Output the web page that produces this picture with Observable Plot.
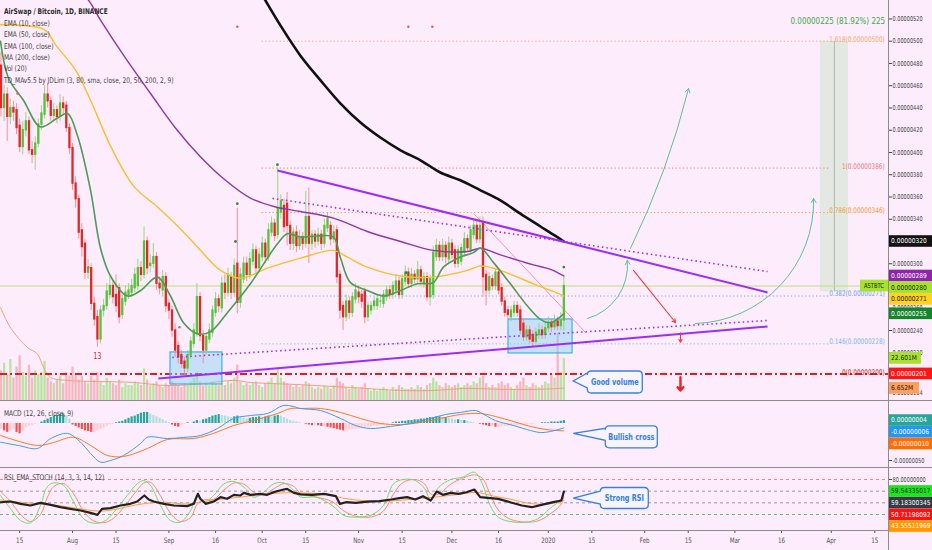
<!DOCTYPE html>
<html><head><meta charset="utf-8">
<script src="https://cdn.jsdelivr.net/npm/d3@7"></script>
<script src="https://cdn.jsdelivr.net/npm/@observablehq/plot@0.6"></script>
<style>
html,body{margin:0;padding:0;background:#fcecfc;}
#wrap{position:relative;width:932px;height:550px;overflow:hidden;background:#fcecfc;}
#wrap > svg{position:absolute;left:0;}
</style></head><body><div id="wrap"></div><script>
const FONT = '"Liberation Sans Narrow","DejaVu Sans Condensed","Liberation Sans",sans-serif';
const START = Date.UTC(2019, 6, 9);
const toDate = d => new Date(START + d * 864e5);

// ---------- daily candles (sats, 1e-8 BTC), day 0 = 2019-07-09 ----------
const opens = [478,440,452,432,440,438,424,405,420,428, 402,398,408,425,434,452,446,433,438,432,
 444,442,422,404,372,358,330,318,292,296, 264,252,232,258,262,272,280,272,278,254,
 266,272,274,278,280,296,290,320,298,300, 306,282,276,288,264,258,240,226,218,212,
 206,218,228,238,270,235,222,232,238,256, 268,260,282,274,288,274,300,265,286,300,
 290,302,312,296,306,318,306,328,336,326, 346,352,354,334,318,328,316,324,318,342,
 318,326,320,326,318,332,334,322,330,290, 262,252,266,256,268,274,272,275,252,258,
 262,262,266,264,270,276,272,276,284,272, 284,292,282,290,286,294,282,288,270,272,
 306,316,306,316,304,318,312,300,302,310, 322,312,326,334,322,336,290,276,286,280,
 292,278,266,258,252,256,262,258,246,234, 240,236,230,236,240,236,242,247,243,248, 244,249];
const closes = [440,452,432,440,436,422,405,420,428,402, 398,408,425,435,452,446,433,438,432,444,
 440,422,404,372,358,328,315,292,296,264, 250,232,258,262,275,280,270,262,252,268,
 274,276,280,290,296,290,320,296,300,306, 282,278,288,262,258,240,222,216,210,206,
 218,230,240,270,235,222,234,240,258,268, 262,282,274,290,274,298,265,290,300,290,
 304,312,296,308,318,306,330,336,325,350, 356,333,334,318,328,316,324,318,342,318,
 326,320,326,318,334,340,322,328,288,258, 252,266,256,270,276,270,266,252,262,262,
 266,268,266,272,276,272,280,284,272,286, 292,282,290,286,294,284,288,270,286,310,
 316,306,316,306,318,308,300,312,314,322, 314,330,334,322,334,288,276,288,280,292,
 276,266,256,254,258,262,256,240,234,240, 232,230,238,240,236,242,247,243,248,244, 249,280];
const highs = [490,460,458,448,446,444,430,428,436,432, 410,414,430,442,460,462,450,444,442,452,
 450,446,426,408,378,362,336,322,304,300, 270,258,262,268,282,288,284,290,282,272,
 280,282,286,296,304,302,333,324,308,318, 310,288,294,292,268,262,246,230,222,216,
 222,234,246,282,274,240,238,246,262,274, 272,288,290,296,292,304,350,296,306,306,
 310,318,316,314,324,322,336,342,340,386, 362,358,364,338,332,334,330,328,365,368,
 330,330,332,330,340,346,338,334,334,294, 266,272,270,274,282,280,276,278,266,266,
 270,272,272,276,280,280,284,290,288,290, 298,296,296,294,302,298,292,292,290,316,
 322,320,322,320,324,322,316,316,318,328, 326,334,339,338,342,342,294,292,290,296,
 296,282,270,262,262,266,266,262,250,244, 244,240,242,246,244,248,252,250,254,252, 256,290];
const lows = [432,428,410,425,428,416,400,398,414,398, 390,384,404,420,430,440,428,428,426,428,
 434,418,398,366,350,322,306,286,286,258, 244,225,228,252,258,268,264,256,246,250,
 262,268,270,274,276,284,286,290,292,296, 276,272,270,256,250,234,216,210,206,200,
 202,214,224,234,230,210,218,228,234,252, 256,256,268,270,268,270,255,260,282,284,
 286,298,290,292,302,300,302,324,320,322, 340,328,316,312,312,310,312,312,314,300,
 312,314,316,312,314,328,316,318,282,250, 240,248,250,252,264,264,260,246,248,254,
 258,258,260,260,266,268,268,272,268,268, 280,278,278,282,282,280,278,266,262,268,
 302,302,302,300,300,304,296,296,298,306, 310,308,322,318,318,270,262,272,276,276,
 272,262,252,250,248,252,252,236,230,230, 228,225,228,232,232,232,238,238,240,240, 240,240];
// volume, millions
const volumes = [16,20,14,22,12,18,24,15,13,19, 12,16,14,15,21,12,10,9,11,13,
 9,15,13,18,14,11,13,10,9,13, 11,15,10,8,12,10,9,8,11,7,
 9,8,8,10,9,8,17,11,8,9, 10,8,7,9,8,10,9,8,7,9,
 8,10,12,15,10,8,9,8,10,9, 8,9,8,10,9,12,19,10,8,9,
 8,9,10,8,7,9,10,12,9,17, 12,10,9,8,7,8,7,8,10,9,
 7,6,7,6,8,7,6,8,12,10, 9,7,6,8,7,6,7,9,6,5,
 6,5,6,7,6,5,7,6,8,7, 6,6,7,6,8,7,6,8,9,12,
 10,8,7,9,8,7,8,9,7,8, 9,8,10,9,12,13,9,7,8,7,
 9,10,8,9,7,6,8,10,12,8, 7,9,8,7,8,10,9,14,12,36, 15,22.601];
// MACD histogram (sats)
const macdHist = [-8,-10,-12,-10,-8,-12,-14,-10,-6,-4, -3,-1,0,2,4,6,8,10,11,12,
 13,10,6,-2,-4,-6,-8,-10,-11,-12, -12,-10,-8,-6,-4,-2,-1,1,2,3,
 5,7,9,10,12,14,15,15,13,11, 9,7,5,3,1,-2,-4,-5,-3,-1,
 1,0,2,4,3,5,6,8,10,11, 12,11,10,9,8,9,10,9,7,6,
 7,8,8,9,8,9,10,9,10,11, 10,8,6,4,3,2,1,0,-1,-2,
 -3,-2,-3,-4,-4,-5,-6,-7,-8,-9, -10,-10,-9,-8,-8,-7,-7,-6,-5,-5,
 -4,-4,-3,-2,-1,0,1,2,2,3, 3,4,4,5,5,6,6,7,8,8,
 9,9,8,8,7,6,5,5,4,4, 3,2,1,0,-1,-2,-3,-4,-4,-5,
 -5,-4,-4,-4,-3,-3,-3,-2,-2,-2, -1,-1,0,0,1,1,1,2,2,2, 3,4];

// ---------- indicator lines, read as [day, value] ----------
const ema10 = [[-0.16,500],[2.4,467],[7.2,447],[12.7,423],[18.2,431],[21.4,435],[24.6,415],[28.8,366],[32,314],[35.2,289],[40.7,271],[44.9,276],[50.3,288],[54.5,271],[58.7,247],[63.2,237],[67.4,239],[72.8,256],[80.2,282],[88.9,318],[92.1,327],[96.3,324],[101.8,325],[106.9,324],[109.2,305],[112.4,283],[117.8,276],[123,271],[128.5,276],[133.9,282],[139,283],[142.3,297],[147.7,306],[151.9,310],[154.2,314],[158.4,301],[163.8,282],[169.3,262],[173.5,250],[176.7,247],[181,255]];
const ema50 = [[-0.16,515],[12.7,512],[15,508],[17.5,497],[24,474],[28.8,447],[35.2,406],[42.6,370],[50.3,351],[56.8,334],[64.2,312],[70.6,294],[77,287],[85.7,296],[96.3,305],[106.9,312],[111.4,306],[117.8,297],[128.5,289],[139,288],[150,294],[154.2,298],[160.6,294],[171.2,282],[176.7,276],[181,271]];
const ema100 = [[20,560],[28.1,537],[32,519],[40,485],[48.1,453],[56.1,422],[64.2,396],[72.2,375],[80.2,359],[88.3,351],[96.3,347],[106.9,341],[117.8,329],[128.5,320],[139,312],[150,311],[154.2,314],[160.6,308],[171.2,299],[176.7,295],[181,289]];
const ma200 = [[80,560],[84.1,541],[89.9,514],[96.3,487],[102.7,465],[109.2,444],[115.6,427],[122,413.5],[128.5,402],[134.9,393],[141.3,382],[147.7,375],[154.2,366],[160.6,357],[167,345],[173.5,333.5],[178.3,325],[181,320]];
const volMa20 = [[-0.16,50],[3.1,39],[8.5,28.5],[11.7,25],[13.7,17.7],[15.9,12.4],[21.4,10.8],[42.6,9.7],[53.5,8],[64.2,9],[74.8,10.8],[80.2,9.7],[96.3,8.5],[112.4,7],[128.5,5.4],[139,5.4],[150,6.5],[160.6,6],[171,5.9],[181,6.652]];
const macdLine = [[-0.16,-25.3],[5.6,-29.7],[11.7,-33.8],[16,-20.3],[21.4,-13.5],[25.6,-25.3],[28.8,-40.5],[32,-52.3],[35.2,-50],[39.4,-43.2],[44.9,-27],[47.1,-18.5],[53.5,-20.3],[58.7,-18.9],[64.2,-16.2],[69.6,-6.8],[74.8,6.8],[80.2,10.8],[85.7,13.5],[90.8,24.3],[94,23],[96.3,20.3],[102.7,17.6],[109.2,6.8],[114,-2.7],[118.8,-6.8],[125.2,-4],[131.7,0],[138.1,6.8],[143,12.2],[147.7,14.9],[152.6,17.6],[154.2,14.9],[159,4],[164.8,-2.7],[170.3,-9.5],[173.5,-12.2],[176.7,-10.8],[181,-6]];
const signalLine = [[-0.16,-16.2],[11.7,-29.7],[16.9,-25.7],[23.3,-18.5],[28.8,-29.7],[34.2,-43.2],[39.4,-44.6],[47.1,-33.8],[53.5,-21.6],[61.9,-20.3],[68.3,-13.5],[74.8,-2.7],[81.2,4],[88.9,13.5],[93.1,20.3],[96.3,20.3],[102.7,20.3],[109.2,14.9],[115.6,6.8],[122,0],[128.5,-1.4],[134.9,1.4],[141.3,6.8],[147.7,12.2],[154.2,13.5],[159,9.5],[164.8,2.7],[170.3,-4],[175.2,-8.1],[181,-10]];
const rsiLine = [[-0.16,41],[3.1,42.3],[6.3,38.3],[9.5,35.4],[12.7,40],[16,36.6],[19.1,32.6],[22.3,29.7],[25.6,26.9],[28.8,22.9],[31,19.4],[32.5,29.7],[35.2,30.9],[38.4,35.4],[41.6,38.3],[43.8,42.3],[46.1,52.6],[47.5,45.7],[49.1,42.3],[52.4,38.3],[55.6,35.4],[59.9,34.3],[62,38.3],[63.3,55.4],[64.1,46.9],[65.8,38.3],[68.4,42.3],[70.6,49.7],[72.7,46.9],[74.9,53.7],[77,52.6],[78.1,57.1],[80.2,53.7],[83.4,55.4],[85.6,53.7],[87.7,58.3],[90.9,62.9],[92,64],[94.2,57.1],[96.3,54.5],[100.1,53.7],[103.9,55.4],[107.7,51.4],[109,38.2],[110.9,41.1],[114.1,40],[117.9,42.2],[121.7,42.8],[125.5,45.7],[128.1,48],[130.6,49.7],[133.2,45.7],[135.7,51.4],[138.2,44],[140.1,59.4],[142.1,53.7],[144.6,57.1],[147.1,55.4],[149.7,58.2],[152.2,62.8],[154.1,49.7],[157.3,48],[159.9,46.8],[163.7,41.1],[167.5,35.4],[170.7,32.5],[173.8,36.5],[177.6,41.1],[180.2,44],[181,59.18]];
const rsiEma = [[-0.16,45],[8,40],[16,37],[24,31],[31,26],[36,28],[44,37],[52,41],[60,38],[66,43],[74,48],[82,53],[90,57],[96,57],[104,55],[110,48],[116,44],[124,43],[132,46],[140,50],[148,55],[153,58],[158,52],[164,46],[170,39],[176,38],[181,43.55]];
const stochK = [[-0.16,52.6],[3.1,29.7],[6.3,9.7],[9.5,5.7],[12.7,35.4],[14.8,66.9],[17,74.3],[20.2,69.7],[23.4,41.1],[26.6,12.6],[29.8,5.1],[33.1,8],[36.3,24],[40.6,52.6],[43.8,72.6],[45.9,78.3],[48.1,69.7],[51.3,35.4],[54.5,9.7],[57.7,6.9],[61,26.9],[63.1,52.6],[65.2,41.1],[68.4,52.6],[71.7,72.6],[74.9,76.6],[78.1,66.9],[81.3,49.7],[84.5,58.3],[87.7,72.6],[91,74.3],[94.2,61.1],[96.3,50],[101.4,49.7],[106.5,35.4],[110.3,18.3],[114.1,15.4],[119.2,19.4],[123,35.4],[126.2,72.5],[129.3,80],[133.2,78.3],[136.3,64],[138.2,44],[140.8,66.8],[144.6,80],[148.4,84],[152.2,92.5],[154.8,72.5],[157.3,35.4],[159.9,15.4],[163.7,8],[168.7,6.8],[172.6,12.5],[176.4,29.7],[180.2,46.8],[181,59.54]];
const stochD = [[-0.16,60],[3.1,42],[6.3,20],[9.5,8],[12.7,20],[14.8,48],[17,68],[20.2,73],[23.4,55],[26.6,25],[29.8,9],[33.1,6],[36.3,14],[40.6,40],[43.8,62],[45.9,74],[48.1,75],[51.3,52],[54.5,22],[57.7,8],[61,15],[63.1,38],[65.2,45],[68.4,46],[71.7,62],[74.9,74],[78.1,72],[81.3,58],[84.5,54],[87.7,64],[91,73],[94.2,68],[96.3,56],[101.4,50],[106.5,42],[110.3,26],[114.1,17],[119.2,16],[123,26],[126.2,55],[129.3,75],[133.2,80],[136.3,72],[138.2,55],[140.8,55],[144.6,72],[148.4,82],[152.2,88],[154.8,82],[157.3,55],[159.9,28],[163.7,12],[168.7,7],[172.6,9],[176.4,20],[180.2,38],[181,50.71]];

// ---------- drawings ----------
const fibRatios = ["0","0.146","0.382","0.786","1","1.618"];
const fibValues = [200,228,271,346,386,500];
const fibColors = ["#b71c1c","#7fb8ec","#6fa6e8","#f09a3e","#ee7b7b","#f3a86c"];
const alertLevel = 201;
const trendSolid = [[88.9,383.8,246.5,274.2],[50.6,196.9,246.5,243.6]];
const trendDotted = [[87.3,358.7,246.5,293],[55.1,215.8,246.5,249]];
const pinkLine = [[152,345.2,188,238.2]];
const zoneBoxes = [[54.5,71.2,191.5,220.3],[163.2,183.8,219.4,249.9]];
const measure = {d1:263.5, d2:272.5, from:274.7, to:500, text:"0.00000225 (81.92%) 225"};
const greenArrowSmall = [[188.6,250.8,201.4,303]];
const greenArrowLong = [[202.4,313.7,221.1,457.5]];
const greenArrowWide = [[223.3,246.3,261.3,358.7]];
const redArrowThin = [[203.4,294,216.9,247.2],[218.5,238,218.5,229.5]];
const redArrowBold = [[218.5,198,218.5,186]];
const tdGreenDots = [[88.9,389],[76,354],[75.4,320],[181,297],[130.3,292]];
const tdRedDots = [[5.3,453],[28.1,297],[57.4,243],[76,513],[131,513],[138.7,513]];
const tickDays = [6,23,37,54,69,84,98,115,129,145,160,176,190,207,221,236,251,267,281];
const tickLabels = ["15","Aug","15","Sep","16","Oct","15","Nov","15","Dec","16","2020","15","Feb","15","Mar","16","Apr","15"];
const priceTicks = [520,500,480,460,440,420,400,380,360,340,300,260,240,220,184];
const legendLines = ["AirSwap / Bitcoin, 1D, BINANCE","EMA (10, close)","EMA (50, close)","EMA (100, close)","MA (200, close)","Vol (20)","TD_MAv5.5 by JDLim (3, 80, sma, close, 20, 50, 200, 2, 9)"];

// ---------- build ----------
const candles = closes.map((c, i) => ({date: toDate(i), open: opens[i], close: c, high: highs[i], low: lows[i], vol: volumes[i], hist: macdHist[i], prevHist: i ? macdHist[i-1] : macdHist[i]}));
const pts = a => a.map(([d, v]) => ({date: toDate(d), v}));
const X = {type: "utc", domain: [toDate(-0.16), toDate(285.4)], axis: null};
const common = {width: 932, marginLeft: 0, marginRight: 44, marginTop: 0, style: {background: "transparent", fontFamily: FONT, fontSize: "7.4px", overflow: "visible"}};
const up = d => d.close >= d.open;
const f8 = v => (v * 1e-8).toFixed(8);
const seg = a => a.map(([d1, v1, d2, v2]) => ({x1: toDate(d1), y1: v1, x2: toDate(d2), y2: v2}));
const L = {x1: "x1", y1: "y1", x2: "x2", y2: "y2"};
const AX = {anchor: "right", tickSize: 3, tickPadding: 1, color: "#444", label: null, fontSize: 6.6};

const wrap = document.getElementById("wrap");

const volPlot = Plot.plot({...common, height: 400, marginBottom: 0, x: X,
  y: {domain: [0, 215], axis: null},
  marks: [
    Plot.ruleX(candles, {x: "date", y1: 0, y2: "vol", stroke: d => up(d) ? "#b9e3a0" : "#f5b6c0", strokeWidth: 2.3}),
    Plot.line(pts(volMa20), {x: "date", y: "v", stroke: "#f2a07a", strokeWidth: 1, curve: "catmull-rom"})
  ]});
volPlot.style.top = "0px"; wrap.appendChild(volPlot);

const main = Plot.plot({...common, height: 400, marginBottom: 0, x: X,
  y: {domain: [177.1, 536.6], axis: null},
  marks: [
    Plot.axisY({...AX, ticks: priceTicks, tickFormat: f8}),
    Plot.rect([measure], {x1: d => toDate(d.d1), x2: d => toDate(d.d2), y1: "from", y2: "to", fill: "#cde5cc", fillOpacity: 0.55}),
    Plot.ruleX([measure], {x: d => toDate((d.d1 + d.d2) / 2), y1: "from", y2: "to", stroke: "#a9bca8", strokeWidth: 1}),
    Plot.ruleY(fibValues.map((v, i) => ({v, c: fibColors[i], i})).filter(d => d.i > 0), {y: "v", x1: toDate(84), x2: toDate(266.3), stroke: "c", strokeWidth: 1, strokeDasharray: "1.2,2.4"}),
    Plot.ruleY([closes[closes.length - 1]], {stroke: "#bde36a", strokeWidth: 1}),
    Plot.ruleY([alertLevel], {stroke: "#e11d1d", strokeWidth: 2, strokeDasharray: "7,3,2,3"}),
    Plot.rect(zoneBoxes, {x1: d => toDate(d[0]), x2: d => toDate(d[1]), y1: d => d[2], y2: d => d[3], fill: "#82d3f4", fillOpacity: 0.45, stroke: "#3fb2e6", strokeWidth: 1.2}),
    Plot.link(seg(pinkLine), {...L, stroke: "#f48fb8", strokeWidth: 1}),
    Plot.ruleX(candles, {x: "date", y1: "low", y2: "high", stroke: d => up(d) ? "#8fd17a" : "#f08a8a", strokeWidth: 0.9}),
    Plot.ruleX(candles, {x: "date", y1: d => Math.min(d.open, d.close) - 0.6, y2: d => Math.max(d.open, d.close) + 0.6, stroke: d => up(d) ? "#55c23a" : "#e32626", strokeWidth: 2.3}),
    Plot.line(pts(ma200), {x: "date", y: "v", stroke: "#111", strokeWidth: 2.6, curve: "catmull-rom", clip: true}),
    Plot.line(pts(ema100), {x: "date", y: "v", stroke: "#8e36a8", strokeWidth: 1.4, curve: "catmull-rom", clip: true}),
    Plot.line(pts(ema50), {x: "date", y: "v", stroke: "#f6c12b", strokeWidth: 1.4, curve: "catmull-rom", clip: true}),
    Plot.line(pts(ema10), {x: "date", y: "v", stroke: "#4e9b55", strokeWidth: 1.6, curve: "catmull-rom", clip: true}),
    Plot.link(seg(trendDotted), {...L, stroke: "#9b2df5", strokeWidth: 1.6, strokeDasharray: "1.5,3"}),
    Plot.link(seg(trendSolid), {...L, stroke: "#9b2df5", strokeWidth: 2}),
    Plot.arrow(seg(greenArrowSmall), {...L, bend: -40, stroke: "#5fbf9a", strokeWidth: 1, headLength: 7}),
    Plot.arrow(seg(greenArrowLong), {...L, bend: -6, stroke: "#5fbf9a", strokeWidth: 1, headLength: 7}),
    Plot.arrow(seg(greenArrowWide), {...L, bend: -45, stroke: "#5fbf9a", strokeWidth: 1, headLength: 7}),
    Plot.arrow(seg(redArrowThin), {...L, stroke: "#ef3b3b", strokeWidth: 1.1, headLength: 5}),
    Plot.arrow(seg(redArrowBold), {...L, stroke: "#ef2020", strokeWidth: 2.4, headLength: 7, headAngle: 80}),
    Plot.dot(tdGreenDots, {x: d => toDate(d[0]), y: d => d[1], r: 1.4, fill: "#2e8b3a"}),
    Plot.dot(tdRedDots, {x: d => toDate(d[0]), y: d => d[1], r: 1.2, fill: "#e05a5a"}),
    Plot.text([["13", 31, 217]], {x: d => toDate(d[1]), y: d => d[2], text: d => d[0], fill: "#e02424", fontSize: 8}),
    Plot.text(fibValues.map((v, i) => ({v, c: fibColors[i], t: `${fibRatios[i]}(${f8(v)})`})), {x: toDate(284.2), y: "v", text: "t", fill: "c", textAnchor: "end", fontSize: 7.6, dy: -2}),
    Plot.text([measure], {x: toDate(284.3), y: 518.5, text: "text", fill: "#43a84a", textAnchor: "end", fontSize: 9.5})
  ]});
main.style.top = "0px"; wrap.appendChild(main);

const macdPlot = Plot.plot({...common, height: 67, marginBottom: 0, x: X,
  y: {domain: [-59.5, 31.1], axis: null},
  marks: [
    Plot.axisY({...AX, ticks: [-50], tickFormat: f8}),
    Plot.ruleX(candles, {x: "date", y1: 0, y2: "hist", strokeWidth: 2.2,
      stroke: d => d.hist >= 0 ? (d.hist >= d.prevHist ? "#26a69a" : "#b2dfdb") : (d.hist < d.prevHist ? "#ef5350" : "#ffcdd2")}),
    Plot.line(pts(signalLine), {x: "date", y: "v", stroke: "#ff7a1a", strokeWidth: 1, curve: "catmull-rom"}),
    Plot.line(pts(macdLine), {x: "date", y: "v", stroke: "#3d9bef", strokeWidth: 1, curve: "catmull-rom"})
  ]});
macdPlot.style.top = "400px"; wrap.appendChild(macdPlot);

const rsiPlot = Plot.plot({...common, height: 83, marginBottom: 20, x: X,
  y: {domain: [-7.43, 100.57], axis: null},
  marks: [
    Plot.axisY({...AX, ticks: [80], tickFormat: v => v.toFixed(8)}),
    Plot.axisX({anchor: "bottom", ticks: tickDays.map(toDate), tickFormat: d => tickLabels[tickDays.indexOf(Math.round((d - START) / 864e5))], tickSize: 3, tickPadding: 4, color: "#555", label: null}),
    Plot.ruleY([80, 60, 40, 20], {stroke: d => d === 80 ? "#e88a8a" : d === 20 ? "#5fc06a" : "#9a9a9a", strokeDasharray: "3,3", strokeWidth: 1}),
    Plot.line(pts(stochD), {x: "date", y: "v", stroke: "#ff8a7a", strokeWidth: 1, curve: "catmull-rom"}),
    Plot.line(pts(stochK), {x: "date", y: "v", stroke: "#6fdc6f", strokeWidth: 1, curve: "catmull-rom"}),
    Plot.line(pts(rsiEma), {x: "date", y: "v", stroke: "#ffa040", strokeWidth: 1, curve: "catmull-rom"}),
    Plot.line(pts(rsiLine), {x: "date", y: "v", stroke: "#222", strokeWidth: 2.2})
  ]});
rsiPlot.style.top = "467px"; wrap.appendChild(rsiPlot);

// ---------- overlay: separators, legend, value tags, callouts ----------
const ov = d3.select(wrap).append("svg").attr("width", 932).attr("height", 550).style("top", "0px").style("font-family", FONT);
[[0, 400.5, 932, 400.5], [0, 467.5, 932, 467.5], [0, 530.5, 888, 530.5], [888.5, 0, 888.5, 550]].forEach(([a, b, c, e]) =>
  ov.append("line").attr("x1", a).attr("y1", b).attr("x2", c).attr("y2", e).attr("stroke", "#8c8c8c").attr("stroke-width", 1));
legendLines.forEach((t, i) => ov.append("text").attr("x", 4).attr("y", 14.3 + i * 11.4).attr("font-size", 7.8).attr("fill", i ? "#444" : "#2a2a2a").attr("font-weight", i ? 400 : 700).text(t));
ov.append("text").attr("x", 4).attr("y", 415.8).attr("font-size", 7.8).attr("fill", "#444").text("MACD (12, 26, close, 9)");
ov.append("text").attr("x", 4).attr("y", 479.8).attr("font-size", 7.8).attr("fill", "#444").text("RSI_EMA_STOCH (14, 3, 3, 14, 12)");

const sx = main.scale("x"), sy = main.scale("y"), vy = volPlot.scale("y"), my = macdPlot.scale("y"), ry = rsiPlot.scale("y");
function tags(items) {
  items.sort((a, b) => a.y - b.y);
  let prev = -1e9;
  for (const it of items) {
    it.y = Math.max(it.y, prev + 11.7); prev = it.y;
    ov.append("rect").attr("x", 889).attr("y", it.y - 5.8).attr("width", it.w || 43).attr("height", 11.6).attr("fill", it.bg);
    ov.append("text").attr("x", 891).attr("y", it.y + 2.4).attr("font-size", 6.6).attr("fill", it.fg).attr("data-k", 1).text(it.t);
  }
}
tags([
  {y: sy.apply(320), t: f8(320), bg: "#131313", fg: "#fff"},
  {y: sy.apply(289), t: f8(289), bg: "#8e24aa", fg: "#fff"},
  {y: sy.apply(closes[181]), t: f8(closes[181]), bg: "#a6e22e", fg: "#1a1a1a"},
  {y: sy.apply(271), t: f8(271), bg: "#ffd21f", fg: "#1a1a1a"},
  {y: sy.apply(255), t: f8(255), bg: "#14852c", fg: "#fff"},
  {y: vy.apply(volumes[181]), t: volumes[181].toFixed(3) + "M", bg: "#a6e22e", fg: "#1a1a1a", w: 32},
  {y: sy.apply(alertLevel), t: f8(alertLevel), bg: "#ff1414", fg: "#fff"},
  {y: vy.apply(6.652), t: "6.652M", bg: "#ff9f5a", fg: "#1a1a1a", w: 30}
]);
{
  const yy = sy.apply(closes[181]);
  ov.append("rect").attr("x", 860).attr("y", yy - 5.8).attr("width", 28).attr("height", 11.6).attr("fill", "#a6e22e");
  ov.append("text").attr("x", 874).attr("y", yy + 2.4).attr("text-anchor", "middle").attr("font-size", 6.8).attr("fill", "#1a1a1a").text("ASTBTC");
}
tags([
  {y: 400 + my.apply(4), t: f8(4), bg: "#26a69a", fg: "#fff"},
  {y: 400 + my.apply(-6), t: f8(-6), bg: "#2196f3", fg: "#fff"},
  {y: 400 + my.apply(-10), t: f8(-10), bg: "#ff6d00", fg: "#fff"}
]);
tags([
  {y: 467 + ry.apply(59.54335017), t: "59.54335017", bg: "#19e619", fg: "#1a1a1a"},
  {y: 467 + ry.apply(59.18300345), t: "59.18300345", bg: "#363a45", fg: "#fff"},
  {y: 467 + ry.apply(50.71198092), t: "50.71198092", bg: "#ff1010", fg: "#fff"},
  {y: 467 + ry.apply(43.55511969), t: "43.55511969", bg: "#ff9800", fg: "#fff"}
]);

function callout(tx, ty, dx, w, top, h, pTop, pBot, text) {
  const x0 = tx + dx, x1 = x0 + w, y0 = top, y1 = top + h, r = 4;
  const p = `M${x0 + r},${y0}H${x1 - r}Q${x1},${y0} ${x1},${y0 + r}V${y1 - r}Q${x1},${y1} ${x1 - r},${y1}H${x0 + r}Q${x0},${y1} ${x0},${y1 - r}V${pBot}L${tx},${ty}L${x0},${pTop}V${y0 + r}Q${x0},${y0} ${x0 + r},${y0}Z`;
  ov.append("path").attr("d", p).attr("fill", "#f7f3ff").attr("stroke", "#3b7fe0").attr("stroke-width", 1.3);
  ov.append("text").attr("x", x0 + w / 2).attr("y", y0 + h / 2 + 3.2).attr("text-anchor", "middle").attr("font-size", 9).attr("font-weight", 700).attr("fill", "#3580e6").attr("data-k", 0.8).text(text);
}
const cx = sx.apply(toDate(184.2));
{ const ty = vy.apply(10.2); callout(cx, ty, 14, 55, ty - 10, 22, ty - 8, ty + 7, "Good volume"); }
{ const ty = 400 + my.apply(-14); callout(cx, ty, 32, 52, ty - 7.5, 22, ty - 5, ty + 7, "Bullish cross"); }
{ const ty = 467 + ry.apply(47.4); callout(cx, ty, 27, 48, ty - 10.5, 21, ty - 7, ty + 6, "Strong RSI"); }

// narrow the glyphs horizontally to match the condensed chart typeface (right-axis text is set small instead)
function squeeze(root, k) {
  root.querySelectorAll("text").forEach(t => {
    const len = t.getComputedTextLength();
    let kk = t.getAttribute("data-k") ? +t.getAttribute("data-k") : k;
    if (t.getBBox().x > 884) kk = 1;
    if (len > 0 && kk !== 1) { t.setAttribute("textLength", (len * kk).toFixed(1)); t.setAttribute("lengthAdjust", "spacingAndGlyphs"); }
  });
}
[main, macdPlot, rsiPlot, ov.node()].forEach(n => squeeze(n, 0.84));
</script></body></html>
